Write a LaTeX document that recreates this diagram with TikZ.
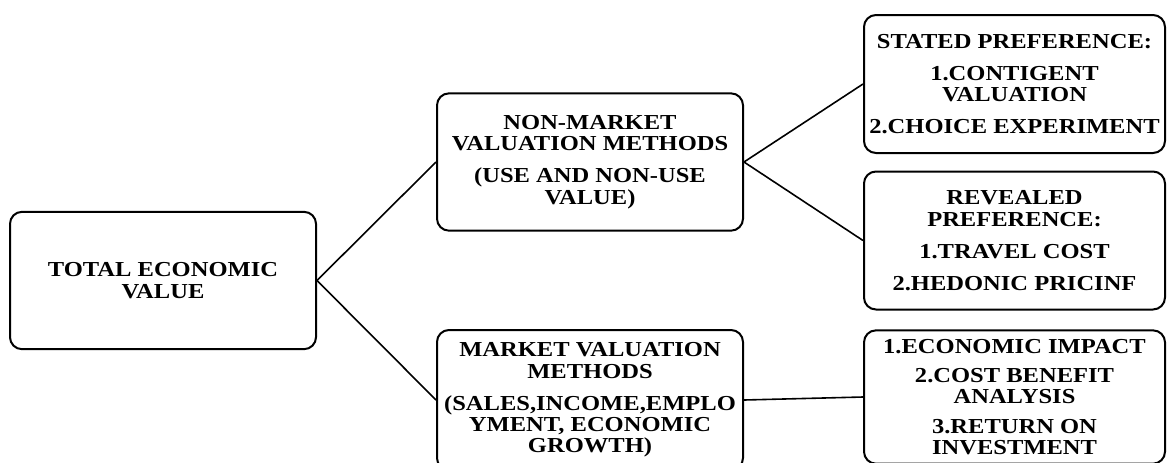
\documentclass[tikz,border=0pt]{standalone}
\usepackage{fontspec}
\setmainfont{Liberation Serif}[FakeStretch=1.15]
\usetikzlibrary{positioning}

\begin{document}
\begin{tikzpicture}[x=0.75pt, y=-0.75pt,
  b/.style={draw, line width=1.5pt, rounded corners=9pt, align=center, inner sep=1pt,
    font=\fontsize{16}{16}\selectfont\bfseries, minimum width=229.5pt, minimum height=103pt},
  r/.style={b, minimum width=225.75pt, minimum height=103.5pt}]
\clip (0,0) rectangle (1167,462);
\node[b] (tev) at (163,280.5) {TOTAL ECONOMIC\\VALUE};
\node[b] (nonmkt) at (590,162) {NON-MARKET\\VALUATION METHODS\\[8pt](USE AND NON-USE\\VALUE)};
\node[b, minimum height=105pt] (mkt) at (590,400) {MARKET VALUATION\\METHODS\\[8pt](SALES,INCOME,EMPLO\\YMENT, ECONOMIC\\GROWTH)};
\node[r] (spref) at (1014.5,84) {STATED PREFERENCE:\\[8pt]1.CONTIGENT\\VALUATION\\[8pt]2.CHOICE EXPERIMENT};
\node[r] (rpref) at (1014.5,240.5) {REVEALED\\PREFERENCE:\\[8pt]1.TRAVEL COST\\[8pt]2.HEDONIC PRICINF};
\node[r, minimum height=100pt] (mtools) at (1014.5,397) {1.ECONOMIC IMPACT\\[6pt]2.COST BENEFIT\\ANALYSIS\\[6pt]3.RETURN ON\\INVESTMENT};
\foreach \a/\b in {tev/nonmkt, tev/mkt, nonmkt/spref, nonmkt/rpref, mkt/mtools}
  \draw[line width=1.2pt] (\a.east) -- (\b.west);
\end{tikzpicture}
\end{document}
